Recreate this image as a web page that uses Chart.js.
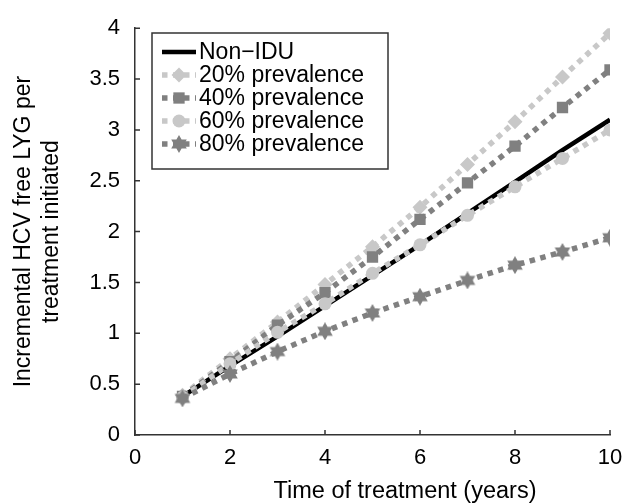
<!DOCTYPE html>
<html>
<head>
<meta charset="utf-8">
<script src="https://cdn.jsdelivr.net/npm/chart.js@4"></script>
<style>
html, body { margin: 0; padding: 0; background: #fff; }
#wrap { width: 638px; height: 503px; }
</style>
</head>
<body>
<div id="wrap"><canvas id="lineChart" width="638" height="503"></canvas></div>
<script>
// values
const years = [1, 2, 3, 4, 5, 6, 7, 8, 9, 10];
const nonIdu = [0.38, 0.68, 0.97, 1.27, 1.57, 1.87, 2.18, 2.49, 2.80, 3.10];
const prev20 = [0.39, 0.75, 1.11, 1.48, 1.85, 2.24, 2.66, 3.08, 3.52, 3.95];
const prev40 = [0.38, 0.72, 1.08, 1.40, 1.75, 2.12, 2.48, 2.84, 3.22, 3.59];
const prev60 = [0.37, 0.70, 1.01, 1.29, 1.59, 1.87, 2.16, 2.44, 2.72, 3.00];
const prev80 = [0.36, 0.60, 0.82, 1.02, 1.20, 1.36, 1.52, 1.67, 1.80, 1.94];
const seriesNames = ["Non\u2212IDU", "20% prevalence", "40% prevalence", "60% prevalence", "80% prevalence"];
const xTicks = [0, 2, 4, 6, 8, 10];
const yTicks = [0, 0.5, 1, 1.5, 2, 2.5, 3, 3.5, 4];
const xTitle = "Time of treatment (years)";
const yTitle = ["Incremental HCV free LYG per", "treatment initiated"];

const FONT = "'Liberation Sans', Arial, sans-serif";
const LIGHT = "#c8c8c8";
const DARK = "#808080";

// six pointed star marker
function makeStar(size, color) {
  const c = document.createElement("canvas");
  c.width = size; c.height = size;
  const g = c.getContext("2d");
  const cx = size / 2, cy = size / 2, ro = size / 2, ri = ro / Math.sqrt(3);
  g.fillStyle = color;
  g.beginPath();
  for (let k = 0; k < 12; k++) {
    const r = k % 2 === 0 ? ro : ri;
    const a = -Math.PI / 2 + k * Math.PI / 6;
    const px = cx + r * Math.cos(a), py = cy + r * Math.sin(a);
    if (k === 0) g.moveTo(px, py); else g.lineTo(px, py);
  }
  g.closePath();
  g.fill();
  return c;
}
const starImg = makeStar(18, DARK);

function pts(arr) {
  return years.map((x, i) => ({ x: x, y: arr[i] }));
}

const CHART = document.getElementById("lineChart");

const boxLegend = {
  id: "boxLegend",
  afterDraw(chart) {
    const ctx = chart.ctx;
    const left = 152, top = 33, w = 236, h = 136;
    ctx.save();
    ctx.fillStyle = "#fff";
    ctx.fillRect(left, top, w, h);
    ctx.strokeStyle = "#333";
    ctx.lineWidth = 1.5;
    ctx.strokeRect(left, top, w, h);
    chart.data.datasets.forEach((ds, i) => {
      const y = 52 + i * 23;
      ctx.save();
      ctx.strokeStyle = ds.borderColor;
      ctx.lineWidth = ds.borderWidth;
      ctx.setLineDash(ds.borderDash || []);
      ctx.beginPath();
      ctx.moveTo(162, y);
      ctx.lineTo(196, y);
      ctx.stroke();
      ctx.restore();
      if (ds.pointRadius > 0) {
        ctx.fillStyle = ds.pointBackgroundColor;
        Chart.helpers.drawPoint(ctx, {
          pointStyle: ds.pointStyle, radius: ds.pointRadius, rotation: 0, borderWidth: 0
        }, 179, y);
      }
      ctx.fillStyle = "#000";
      ctx.font = "23px " + FONT;
      ctx.textBaseline = "middle";
      ctx.textAlign = "left";
      ctx.fillText(ds.label, 199, y + 1);
    });
    ctx.restore();
  }
};

// inward tick marks + x axis title (sits right of centre in the original)
const axisExtras = {
  id: "axisExtras",
  afterDraw(chart) {
    const ctx = chart.ctx;
    const xs = chart.scales.x, ys = chart.scales.y;
    ctx.save();
    ctx.strokeStyle = "#333";
    ctx.lineWidth = 1.5;
    ctx.beginPath();
    xTicks.forEach(v => {
      const p = xs.getPixelForValue(v);
      ctx.moveTo(p, ys.bottom);
      ctx.lineTo(p, ys.bottom - 5);
    });
    yTicks.forEach(v => {
      const p = ys.getPixelForValue(v);
      ctx.moveTo(xs.left, p);
      ctx.lineTo(xs.left + 5, p);
    });
    ctx.stroke();
    ctx.fillStyle = "#000";
    ctx.font = "23.5px " + FONT;
    ctx.textAlign = "center";
    ctx.textBaseline = "middle";
    ctx.fillText(xTitle, 405, 492);
    ctx.restore();
  }
};

let lineChart = new Chart(CHART, {
  type: "line",
  data: {
    datasets: [
      {
        label: seriesNames[0],
        data: pts(nonIdu),
        borderColor: "#000",
        borderWidth: 4.5,
        pointRadius: 0,
        order: 5
      },
      {
        label: seriesNames[1],
        data: pts(prev20),
        borderColor: LIGHT,
        borderWidth: 5.5,
        borderDash: [5.5, 5.5],
        borderCapStyle: "butt",
        pointStyle: "rectRot",
        pointRadius: 7.5,
        pointBackgroundColor: LIGHT,
        pointBorderWidth: 0,
        order: 4
      },
      {
        label: seriesNames[2],
        data: pts(prev40),
        borderColor: DARK,
        borderWidth: 5.5,
        borderDash: [5.5, 5.5],
        borderCapStyle: "butt",
        pointStyle: "rect",
        pointRadius: 8,
        pointBackgroundColor: DARK,
        pointBorderWidth: 0,
        order: 3
      },
      {
        label: seriesNames[3],
        data: pts(prev60),
        borderColor: LIGHT,
        borderWidth: 5.5,
        borderDash: [5.5, 5.5],
        borderCapStyle: "butt",
        pointStyle: "circle",
        pointRadius: 6.5,
        pointBackgroundColor: LIGHT,
        pointBorderWidth: 0,
        order: 2
      },
      {
        label: seriesNames[4],
        data: pts(prev80),
        borderColor: DARK,
        borderWidth: 5.5,
        borderDash: [5.5, 5.5],
        borderCapStyle: "butt",
        pointStyle: starImg,
        pointRadius: 9,
        pointBackgroundColor: DARK,
        pointBorderWidth: 0,
        order: 1
      }
    ]
  },
  options: {
    responsive: false,
    animation: false,
    layout: { padding: { left: 0, right: 28, top: 22, bottom: 0 } },
    plugins: {
      legend: { display: false },
      tooltip: { enabled: false }
    },
    scales: {
      x: {
        type: "linear",
        min: 0,
        max: 10,
        afterBuildTicks: s => { s.ticks = xTicks.map(v => ({ value: v })); },
        afterFit: s => { s.height = 68; },
        grid: { display: false, drawTicks: false },
        border: { display: true, color: "#333", width: 1.5 },
        ticks: {
          color: "#000", padding: 10,
          font: { family: FONT, size: 22 },
          callback: v => String(v)
        },
        title: { display: false }
      },
      y: {
        min: 0,
        max: 4,
        afterBuildTicks: s => { s.ticks = yTicks.map(v => ({ value: v })); },
        afterFit: s => { s.width = 135; },
        grid: { display: false, drawTicks: false },
        border: { display: true, color: "#333", width: 1.5 },
        ticks: {
          color: "#000", padding: 15,
          font: { family: FONT, size: 22 },
          callback: v => String(v)
        },
        title: {
          display: true,
          text: yTitle,
          color: "#000",
          font: { family: FONT, size: 23, lineHeight: 1.2 },
          padding: { top: 10, bottom: 0 }
        }
      }
    }
  },
  plugins: [axisExtras, boxLegend]
});
</script>
</body>
</html>
